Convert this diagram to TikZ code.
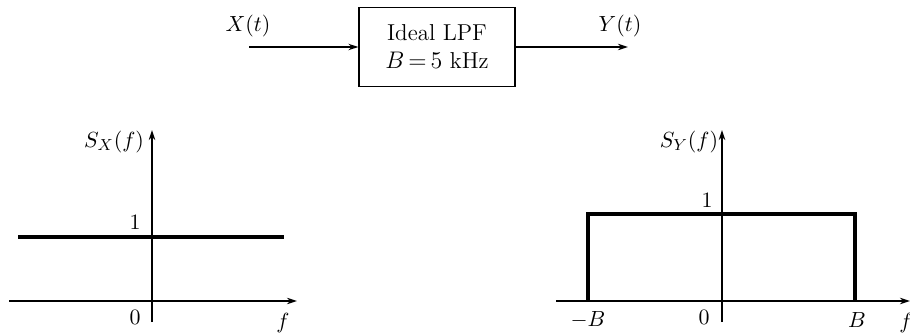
\documentclass[tikz,border=0pt]{standalone}
\usetikzlibrary{arrows.meta}
\begin{document}
\begin{tikzpicture}[x=0.5pt,y=-0.5pt,
  arr/.style={line width=1pt,-{Stealth[length=5pt,width=3.2pt]}},
  axis/.style={line width=0.9pt,-{Stealth[length=5pt,width=3.2pt]}},
  plain/.style={line width=0.9pt},
  sig/.style={line width=2pt},
  lbl/.style={inner sep=0pt,font=\fontsize{11}{13}\selectfont},
  boxst/.style={draw,line width=0.6pt,minimum width=78pt,minimum height=39.5pt,align=center,font=\fontsize{11.5}{14}\selectfont}]
\useasboundingbox (0,0) rectangle (910,336);
% block diagram
\node[boxst] (lpf) at (437,47) {Ideal LPF\\$B\,{=}\,5$ kHz};
\coordinate (xin) at (249,47);
\coordinate (yout) at (628,47);
\draw[arr] (xin) -- (lpf.west);
\draw[arr] (lpf.east) -- (yout);
\node[lbl] (xlab) at (248,26) {$X(t)$};
\node[lbl] (ylab) at (620,26) {$Y(t)$};
% left graph
\coordinate (lvb) at (152,322);
\coordinate (lvt) at (152,130);
\coordinate (lhl) at (9,301);
\coordinate (lhr) at (297,301);
\draw[axis] (lvb) -- (lvt);
\draw[axis] (lhl) -- (lhr);
\coordinate (ls1) at (18,237);
\coordinate (ls2) at (284,237);
\draw[sig] (ls1) -- (ls2);
\node[lbl] (lone) at (135,222) {$1$};
\node[lbl] (lzero) at (135,317) {$0$};
\node[lbl] (lf) at (283,323) {$f$};
\node[lbl] (lS) at (114,142) {$S_X(f)$};
% right graph
\coordinate (rvb) at (722,322);
\coordinate (rvt) at (722,130);
\coordinate (rhl) at (556,301);
\coordinate (rhr) at (910,301);
\draw[axis] (rvb) -- (rvt);
\draw[axis] (rhl) -- (rhr);
\coordinate (r1) at (588,301);
\coordinate (r2) at (588,214);
\coordinate (r3) at (855,214);
\coordinate (r4) at (855,301);
\draw[sig,line join=miter] (r1) -- (r2) -- (r3) -- (r4);
\node[lbl] (rone) at (707,200) {$1$};
\node[lbl] (rzero) at (704,317) {$0$};
\node[lbl] (rmB) at (588,320) {$-B$};
\node[lbl] (rB) at (857,320) {$B$};
\node[lbl] (rf) at (906,323) {$f$};
\node[lbl] (rS) at (689,142) {$S_Y(f)$};
\end{tikzpicture}
\end{document}
